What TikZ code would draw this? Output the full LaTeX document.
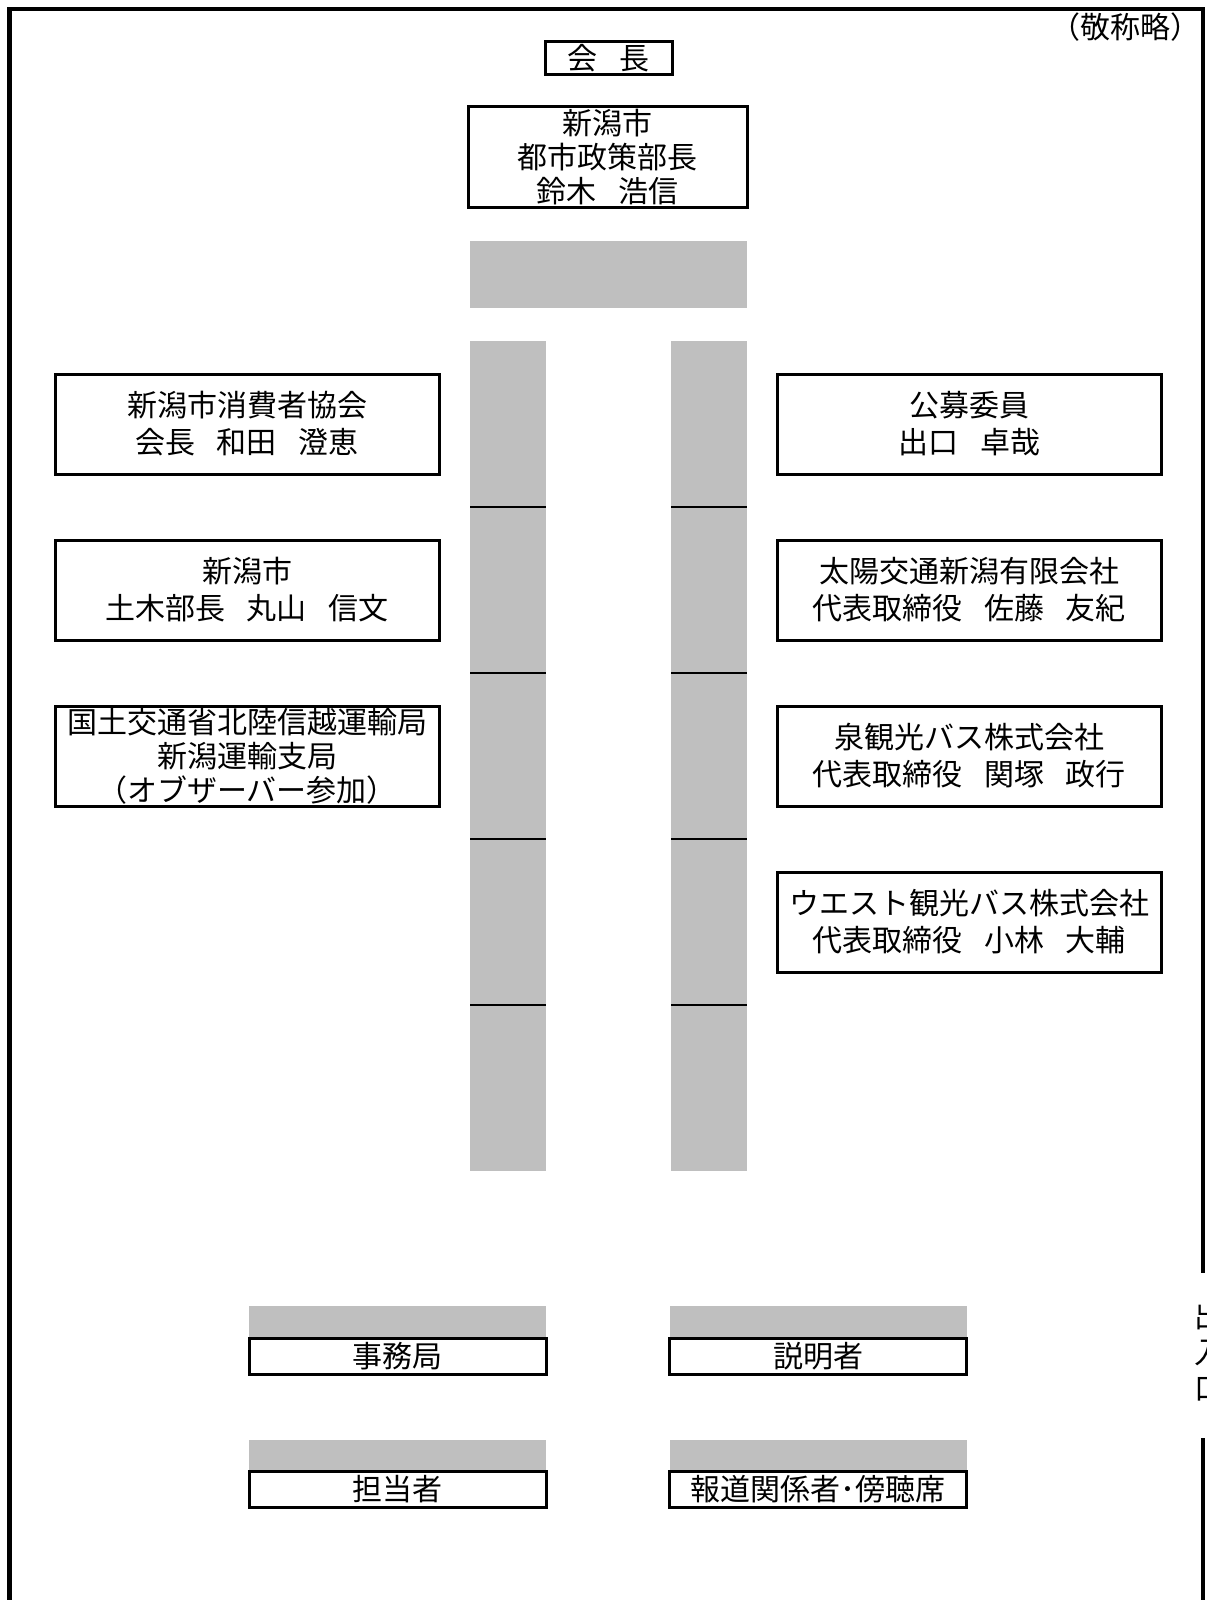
\documentclass[tikz,border=0pt]{standalone}
\usepackage{fontspec}
\setmainfont{Noto Sans CJK JP}
\usepackage{xcolor}
\usepackage{tikz}
\definecolor{seatgray} {RGB} {191, 191, 191}
\usetikzlibrary{calc,backgrounds}
\newcommand{\namegap}{\hspace{11pt}}
\tikzstyle{plan}=[
  x=0.5pt, y=-0.5pt, font=\fontsize{15}{17}\selectfont
]
\tikzstyle{planbox}=[
  draw, line width=1.5pt, inner sep=0pt, outer sep=0pt, align=center, fill=white
]
\tikzstyle{memberbox}=[
  planbox, minimum width=192pt, minimum height=50pt
]
\tikzstyle{deskbox}=[
  fill=seatgray, inner sep=0pt, outer sep=0pt
]
\tikzstyle{deskcol}=[
  deskbox, minimum width=38pt, minimum height=83pt
]
\tikzstyle{staffbox}=[
  planbox, minimum width=148.5pt, minimum height=18pt
]
\tikzstyle{staffdesk}=[
  deskbox, minimum width=148.5pt, minimum height=16pt
]
\tikzstyle{deskline}=[
  line width=1.3pt
]
\tikzstyle{wall}=[
  line width=2.25pt
]

\begin{document}
\begin{tikzpicture}[plan]
    \useasboundingbox (0,0) rectangle (1206,1600);
    \node (note) at (1125, 27) {（敬称略）};
    \node (chair) [planbox, minimum width=63.5pt, minimum height=16.5pt] at (608.5, 58.5) {会\namegap 長};
    \node (chairman) [planbox, minimum width=139.5pt, minimum height=50pt] at ($(chair) + (-1.0, 98.5)$) {新潟市\\都市政策部長\\鈴木\namegap 浩信};
    \node (top desk) [deskbox, minimum width=138.5pt, minimum height=33.5pt] at ($(chairman) + (1.0, 117.5)$) {};
    \foreach \i in {1,...,5} {
        \node (left desk \i) [deskcol] at (508, 258 + 166*\i) {};
        \node (right desk \i) [deskcol] at (709, 258 + 166*\i) {};
    }
    \foreach \i in {1,...,4} {
        \draw [deskline] (left desk \i.south west) -- (left desk \i.south east);
        \draw [deskline] (right desk \i.south west) -- (right desk \i.south east);
    }
    \node (left member 1) [memberbox] at ($(left desk 1) + (-261, 0.0)$) {新潟市消費者協会\\[1.5pt]会長\namegap 和田\namegap 澄恵};
    \node (left member 2) [memberbox] at ($(left desk 2) + (-261, 0.0)$) {新潟市\\[1.5pt]土木部長\namegap 丸山\namegap 信文};
    \node (left member 3) [memberbox] at ($(left desk 3) + (-261, 0.0)$) {国土交通省北陸信越運輸局\\新潟運輸支局\\（オブザーバー参加）};
    \node (right member 1) [memberbox] at ($(right desk 1) + (260, 0.0)$) {公募委員\\[1.5pt]出口\namegap 卓哉};
    \node (right member 2) [memberbox] at ($(right desk 2) + (260, 0.0)$) {太陽交通新潟有限会社\\[1.5pt]代表取締役\namegap 佐藤\namegap 友紀};
    \node (right member 3) [memberbox] at ($(right desk 3) + (260, 0.0)$) {泉観光バス株式会社\\[1.5pt]代表取締役\namegap 関塚\namegap 政行};
    \node (right member 4) [memberbox] at ($(right desk 4) + (260, 0.0)$) {ウエスト観光バス株式会社\\[1.5pt]代表取締役\namegap 小林\namegap 大輔};
    \node (office desk) [staffdesk] at (397.5, 1322) {};
    \node (office) [staffbox] at ($(office desk) + (0.0, 34)$) {事務局};
    \node (speaker desk) [staffdesk] at (818, 1322) {};
    \node (speaker) [staffbox] at ($(speaker desk) + (0.0, 34)$) {説明者};
    \node (staff desk) [staffdesk] at (397.5, 1455.5) {};
    \node (staff) [staffbox] at ($(staff desk) + (0.0, 34)$) {担当者};
    \node (press desk) [staffdesk] at (818, 1455.5) {};
    \node (press) [staffbox] at ($(press desk) + (0.0, 34)$) {報道関係者･傍聴席};
    \node (door) [align=center, font=\fontsize{15}{18}\selectfont] at (1209, 1352) {出\\入\\口};
    \coordinate (door top) at (1203, 1273);
    \coordinate (door bottom) at (1203, 1438);
    \draw [wall] (9.5, 1600) |- (1203, 9) -- (door top);
    \draw [wall] (door bottom) -- (1203, 1600);
\end{tikzpicture}
\end{document}
